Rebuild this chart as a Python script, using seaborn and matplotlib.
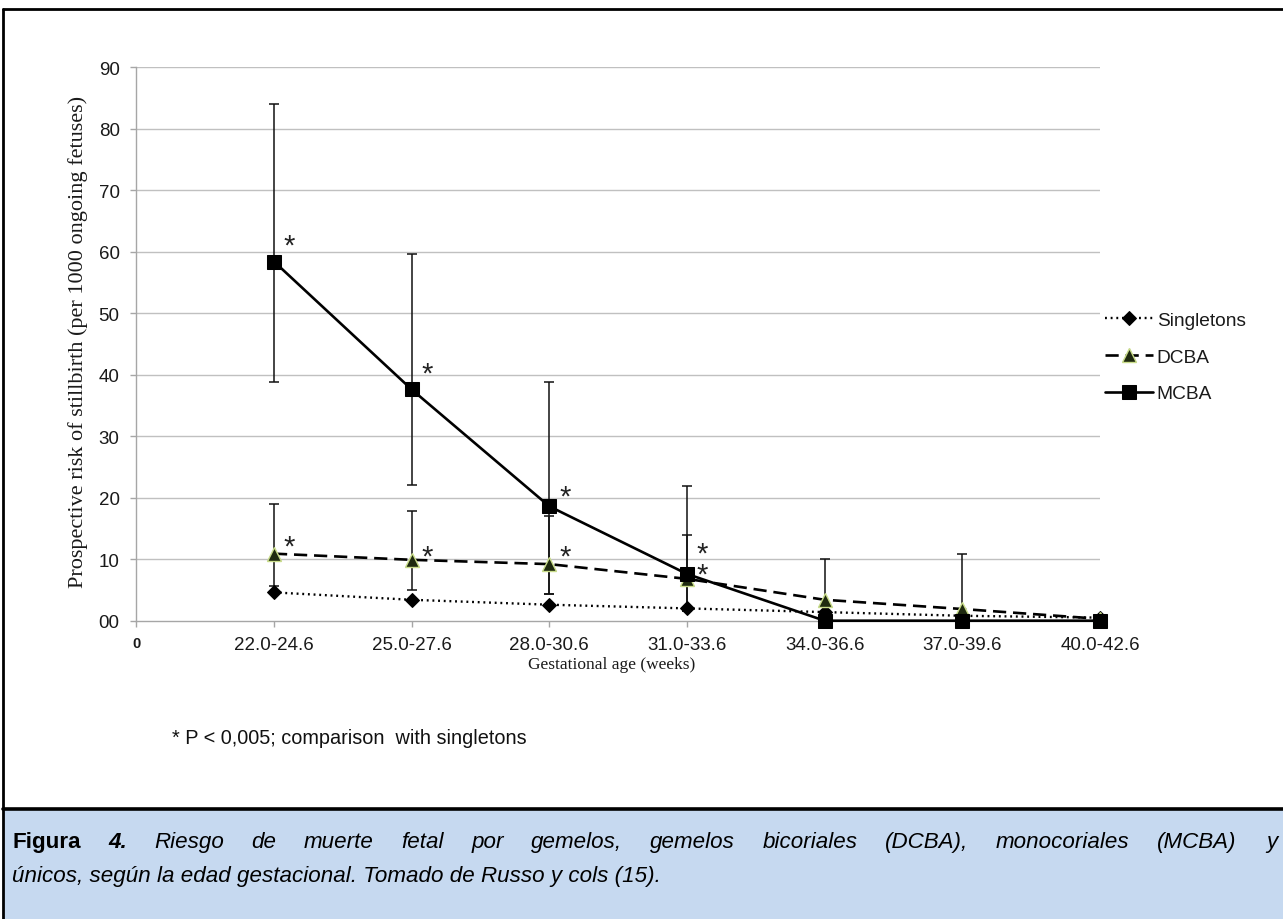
import numpy as np
import pandas as pd
import matplotlib
matplotlib.use("Agg")
import matplotlib.pyplot as plt
import seaborn as sns

# ---- data -------------------------------------------------------------
categories = ["22.0-24.6", "25.0-27.6", "28.0-30.6", "31.0-33.6",
              "34.0-36.6", "37.0-39.6", "40.0-42.6"]
x_tick_labels = ["0"] + categories
y_tick_labels = ["00", "10", "20", "30", "40", "50", "60", "70", "80", "90"]

singletons = [4.6, 3.4, 2.6, 2.0, 1.4, 0.8, 0.5]
dcba = [10.9, 9.9, 9.2, 6.8, 3.4, 1.9, 0.3]
mcba = [58.4, 37.6, 18.6, 7.6, 0.0, 0.0, 0.0]

# confidence limits (lower, upper)
dcba_lower = [5.7, 5.0, 4.3, 1.5, 3.4, 1.9, 0.3]
dcba_upper = [18.9, 17.9, 17.1, 14.0, 3.4, 1.9, 0.3]
mcba_lower = [38.8, 22.1, 4.3, 1.5, 0.0, 0.0, 0.0]
mcba_upper = [84.0, 59.6, 38.8, 21.9, 10.0, 10.8, 0.0]

# significance marks: (category index, height, mark)
star_marks = [(0, 61.0, "*"), (0, 12.0, "*"), (1, 40.2, "*"), (1, 10.4, "*"),
              (2, 20.2, "*"), (2, 10.4, "*"), (3, 9.2, "*\n*")]

footnote = "* P < 0,005; comparison  with singletons"
caption_line1 = [("Figura", "bold", "normal"), ("4.", "bold", "italic"),
                 ("Riesgo", "normal", "italic"), ("de", "normal", "italic"),
                 ("muerte", "normal", "italic"), ("fetal", "normal", "italic"),
                 ("por", "normal", "italic"), ("gemelos,", "normal", "italic"),
                 ("gemelos", "normal", "italic"), ("bicoriales", "normal", "italic"),
                 ("(DCBA),", "normal", "italic"), ("monocoriales", "normal", "italic"),
                 ("(MCBA)", "normal", "italic")]
caption_line1_end = "y"
caption_line2 = "únicos, según la edad gestacional. Tomado de Russo y cols (15)."

# ---- style ------------------------------------------------------------
sns.set_theme(style="white")
plt.rcParams["font.family"] = ["Liberation Sans", "DejaVu Sans"]

W, H = 1283, 920
fig = plt.figure(figsize=(W / 100, H / 100), dpi=100)
fig.patch.set_facecolor("white")

ax_l, ax_r, ax_t, ax_b = 136.3, 1100.0, 68.2, 621.7
ax = fig.add_axes([ax_l / W, 1 - ax_b / H, (ax_r - ax_l) / W, (ax_b - ax_t) / H])
ax.set_facecolor("white")

pos = np.arange(1, len(categories) + 1)
df = pd.DataFrame({"pos": pos, "Singletons": singletons, "DCBA": dcba, "MCBA": mcba})

grid_col = "#c0c0c0"
for yv in range(10, 91, 10):
    ax.axhline(yv, color=grid_col, lw=1.0, zorder=0)

# error bars (zero-length bars are skipped)
def draw_ci(values, lower, upper):
    v, lo, hi = map(np.array, (values, lower, upper))
    keep = (hi - lo) > 0
    ax.errorbar(pos[keep], v[keep], yerr=[(v - lo)[keep], (hi - v)[keep]],
                fmt="none", ecolor="#111111", elinewidth=1.1, capsize=3.6,
                capthick=1.1, zorder=2)

draw_ci(mcba, mcba_lower, mcba_upper)
draw_ci(dcba, dcba_lower, dcba_upper)

sns.lineplot(data=df, x="pos", y="Singletons", ax=ax, color="black",
             lw=1.7, linestyle=(0, (0.8, 1.6)), marker="D", markersize=7,
             markerfacecolor="black", markeredgecolor="black",
             label="Singletons", zorder=3, clip_on=False)
sns.lineplot(data=df, x="pos", y="DCBA", ax=ax, color="black",
             lw=1.9, linestyle=(0, (5, 2.6)), marker="^", markersize=9.5,
             markerfacecolor="#1f2a10", markeredgecolor="#c9dc8a",
             markeredgewidth=1.0, label="DCBA", zorder=4, clip_on=False)
sns.lineplot(data=df, x="pos", y="MCBA", ax=ax, color="black",
             lw=1.9, linestyle="-", marker="s", markersize=9.5,
             markerfacecolor="black", markeredgecolor="black",
             label="MCBA", zorder=5, clip_on=False)

for ci, yv, mark in star_marks:
    ax.annotate(mark, xy=(pos[ci], yv), xytext=(7, 0), textcoords="offset points",
                ha="left", va="center", fontsize=21, color="#222222",
                linespacing=0.68)

# axes
ax.set_xlim(0, len(categories))
ax.set_ylim(0, 90)
ax.set_xticks(np.arange(0, len(categories) + 1))
ax.set_xticklabels(x_tick_labels)
ax.set_yticks(np.arange(0, 91, 10))
ax.set_yticklabels(y_tick_labels)
for sp in ["top", "right"]:
    ax.spines[sp].set_visible(False)
for sp in ["left", "bottom"]:
    ax.spines[sp].set_color("#a6a6a6")
    ax.spines[sp].set_linewidth(1.0)
ax.tick_params(axis="y", length=4, width=1, color="#a6a6a6", pad=8,
               labelsize=13.5, labelcolor="#1a1a1a", left=True)
ax.tick_params(axis="x", length=4, width=1, color="#a6a6a6", pad=7,
               labelsize=13.5, labelcolor="#1a1a1a", bottom=True)
zero_lbl = ax.get_xticklabels()[0]
zero_lbl.set_fontsize(10.5)
zero_lbl.set_fontweight("bold")

ax.set_xlabel("Gestational age (weeks)", family=["Liberation Serif"],
              fontsize=12.5, color="#1a1a1a")
ax.xaxis.set_label_coords(0.4936, -0.064)
ax.set_ylabel("Prospective risk of stillbirth (per 1000 ongoing fetuses)",
              family=["Liberation Serif"], fontsize=16, color="#1a1a1a")
ax.yaxis.set_label_coords(-0.050, 0.505)

leg = ax.legend(loc="center left", bbox_to_anchor=(1105 / W, 1 - 358 / H),
                bbox_transform=fig.transFigure, frameon=False, fontsize=13.8,
                handlelength=2.5, handletextpad=0.2, labelspacing=1.0,
                borderaxespad=0, borderpad=0)
for t in leg.get_texts():
    t.set_color("#1a1a1a")

# footnote
fig.text(172 / W, 1 - 738 / H, footnote,
         fontsize=14.3, color="#111111", va="center", ha="left")

# frame and caption panel
fig.add_artist(plt.Rectangle((3 / W, 0), 1 - 3 / W, 110 / H,
                             transform=fig.transFigure, facecolor="#c6d9f0",
                             edgecolor="none", zorder=0))
fig.add_artist(plt.Line2D([3 / W, 3 / W], [0, 1 - 10 / H], transform=fig.transFigure,
                          color="black", lw=2.0))
fig.add_artist(plt.Line2D([3 / W, 1], [1 - 10 / H, 1 - 10 / H], transform=fig.transFigure,
                          color="black", lw=2.0))
fig.add_artist(plt.Line2D([3 / W, 1], [110 / H, 110 / H], transform=fig.transFigure,
                          color="black", lw=2.6))

# caption: first line spread between the panel margins
renderer = fig.canvas.get_renderer()
cap_size = 16.1
line1_y = 1 - 843 / H
line2_y = 1 - 877 / H
left_px, right_px = 12, 1236
words = []
total_w = 0.0
for s, wgt, sty in caption_line1:
    t = fig.text(0, line1_y, s, fontsize=cap_size, fontweight=wgt,
                 fontstyle=sty, color="black", va="center", ha="left")
    w = t.get_window_extent(renderer).width
    words.append((t, w))
    total_w += w
gap = (right_px - left_px - total_w) / (len(words) - 1)
x_px = left_px
for t, w in words:
    t.set_x(x_px / W)
    x_px += w + gap
fig.text(1278 / W, line1_y, caption_line1_end, fontsize=cap_size,
         fontstyle="italic", color="black", va="center", ha="right")
fig.text(left_px / W, line2_y, caption_line2,
         fontsize=cap_size, fontstyle="italic", color="black", va="center", ha="left")

fig.savefig("out.png", dpi=100)
